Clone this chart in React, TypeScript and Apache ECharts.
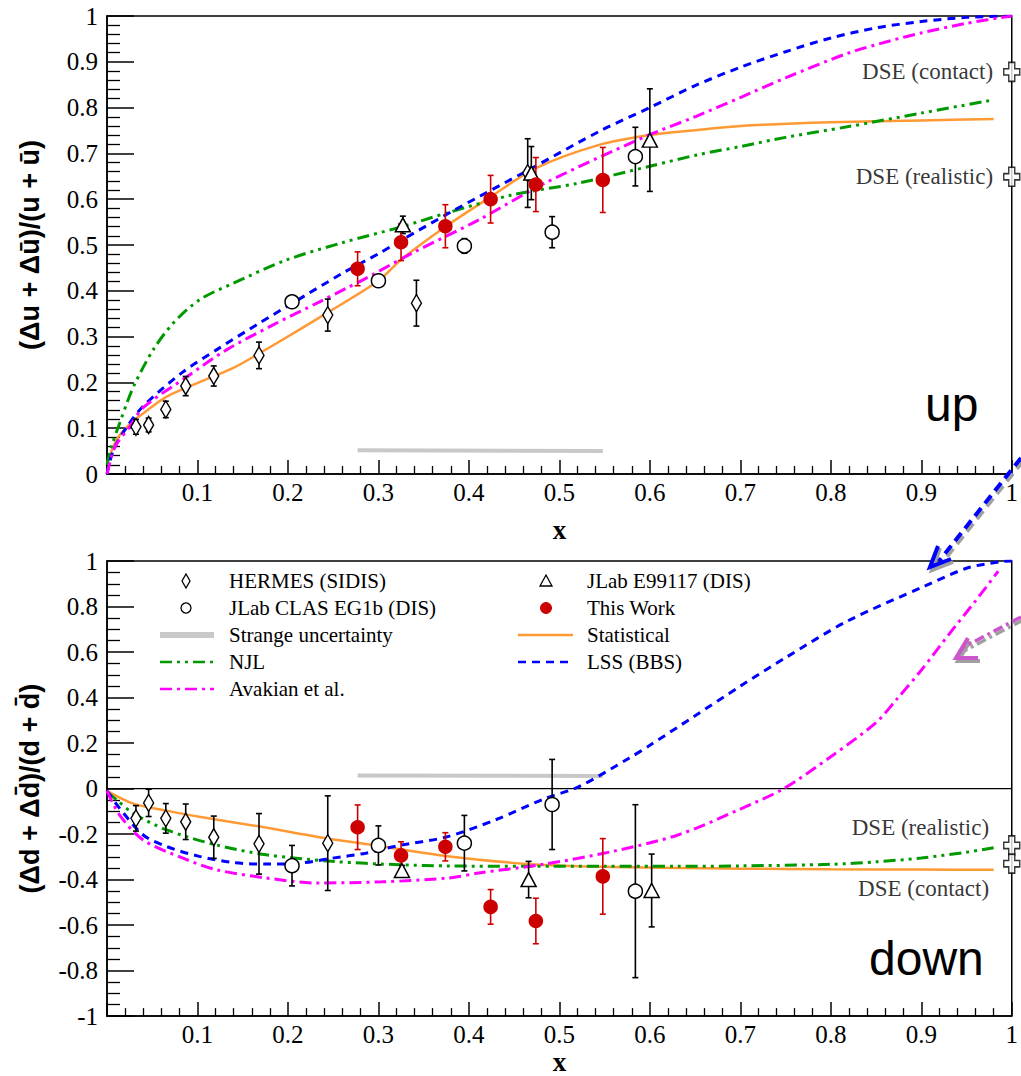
import React, { useEffect, useRef } from 'react';
import * as echarts from 'echarts';

// ---------------- DATA: up quark (top panel) ----------------
const hermesUpX = [0.032, 0.046, 0.065, 0.087, 0.118, 0.168, 0.244, 0.342, 0.465];
const hermesUpY = [0.103, 0.107, 0.141, 0.192, 0.214, 0.259, 0.347, 0.373, 0.657];
const hermesUpErr = [0.016, 0.015, 0.018, 0.021, 0.022, 0.029, 0.035, 0.05, 0.075];

const clasUpX = [0.2045, 0.3, 0.395, 0.492, 0.584];
const clasUpY = [0.376, 0.422, 0.498, 0.528, 0.693];
const clasUpErr = [0.007, 0.008, 0.016, 0.034, 0.064];

const e99117UpX = [0.327, 0.469, 0.6];
const e99117UpY = [0.544, 0.657, 0.729];
const e99117UpErr = [0.019, 0.058, 0.112];

const thisWorkUpX = [0.277, 0.325, 0.374, 0.424, 0.474, 0.548];
const thisWorkUpY = [0.448, 0.506, 0.541, 0.6, 0.632, 0.642];
const thisWorkUpErr = [0.037, 0.04, 0.047, 0.052, 0.059, 0.071];

const strangeUpX = [0.277, 0.548];
const strangeUpY = [0.052, 0.05];

const statUpX = [0, 0.006, 0.0125, 0.027, 0.045, 0.066, 0.099, 0.139, 0.187, 0.246, 0.3, 0.325, 0.374, 0.424, 0.473, 0.543, 0.6, 0.653, 0.7, 0.8, 0.9, 0.98];
const statUpY = [0.023, 0.055, 0.081, 0.112, 0.14, 0.169, 0.198, 0.231, 0.285, 0.355, 0.422, 0.468, 0.54, 0.605, 0.667, 0.718, 0.74, 0.751, 0.76, 0.768, 0.772, 0.775];

const njlUpX = [0, 0.005, 0.014, 0.023, 0.031, 0.051, 0.073, 0.102, 0.139, 0.198, 0.26, 0.326, 0.374, 0.447, 0.521, 0.6, 0.653, 0.7, 0.75, 0.818, 0.9, 0.98];
const njlUpY = [0.02, 0.06, 0.111, 0.16, 0.198, 0.271, 0.329, 0.38, 0.416, 0.467, 0.505, 0.54, 0.569, 0.609, 0.635, 0.672, 0.697, 0.715, 0.735, 0.758, 0.788, 0.817];

const lssUpX = [0, 0.007, 0.022, 0.04, 0.084, 0.121, 0.168, 0.205, 0.26, 0.301, 0.326, 0.381, 0.466, 0.547, 0.6, 0.65, 0.7, 0.75, 0.8, 0.85, 0.9, 0.95, 1.0];
const lssUpY = [0.0, 0.052, 0.103, 0.148, 0.223, 0.271, 0.329, 0.373, 0.438, 0.482, 0.511, 0.573, 0.664, 0.751, 0.8, 0.848, 0.888, 0.922, 0.952, 0.974, 0.988, 0.997, 1.0];

const avaUpX = [0, 0.009, 0.025, 0.04, 0.088, 0.132, 0.183, 0.235, 0.264, 0.286, 0.337, 0.411, 0.484, 0.594, 0.65, 0.7, 0.75, 0.818, 0.866, 0.9, 0.95, 1.0];
const avaUpY = [0, 0.06, 0.103, 0.145, 0.212, 0.271, 0.325, 0.376, 0.405, 0.427, 0.482, 0.555, 0.635, 0.736, 0.78, 0.822, 0.865, 0.918, 0.946, 0.963, 0.984, 1.0];

const dseUpLabels = ['DSE (contact)', 'DSE (realistic)'];
const dseUpY = [0.878, 0.649];

// ---------------- DATA: down quark (bottom panel) ----------------
const hermesDownX = [0.032, 0.046, 0.065, 0.087, 0.118, 0.168, 0.244];
const hermesDownY = [-0.131, -0.063, -0.131, -0.146, -0.214, -0.243, -0.24];
const hermesDownErr = [0.056, 0.06, 0.065, 0.078, 0.093, 0.133, 0.208];

const clasDownX = [0.2045, 0.3, 0.395, 0.492, 0.584];
const clasDownY = [-0.339, -0.25, -0.24, -0.07, -0.451];
const clasDownErr = [0.089, 0.086, 0.122, 0.198, 0.38];

const e99117DownX = [0.326, 0.466, 0.602];
const e99117DownY = [-0.36, -0.4, -0.448];
const e99117DownErr = [0.022, 0.08, 0.16];

const thisWorkDownX = [0.277, 0.325, 0.374, 0.424, 0.474, 0.548];
const thisWorkDownY = [-0.17, -0.294, -0.256, -0.52, -0.582, -0.386];
const thisWorkDownErr = [0.098, 0.06, 0.062, 0.076, 0.1, 0.166];

const strangeDownX = [0.277, 0.548];
const strangeDownY = [0.057, 0.055];

const statDownX = [0, 0.029, 0.066, 0.102, 0.169, 0.242, 0.301, 0.374, 0.466, 0.521, 0.631, 0.7, 0.8, 0.9, 0.98];
const statDownY = [-0.01, -0.066, -0.097, -0.124, -0.167, -0.218, -0.252, -0.296, -0.332, -0.342, -0.349, -0.352, -0.355, -0.356, -0.357];

const njlDownX = [0, 0.011, 0.029, 0.066, 0.121, 0.176, 0.249, 0.323, 0.378, 0.466, 0.55, 0.631, 0.7, 0.8, 0.85, 0.9, 0.95, 0.98];
const njlDownY = [-0.015, -0.051, -0.109, -0.182, -0.248, -0.291, -0.32, -0.335, -0.34, -0.342, -0.342, -0.342, -0.34, -0.333, -0.322, -0.305, -0.28, -0.26];

const lssDownX = [0, 0.014, 0.04, 0.066, 0.102, 0.139, 0.176, 0.213, 0.249, 0.286, 0.323, 0.374, 0.429, 0.484, 0.521, 0.576, 0.6, 0.65, 0.7, 0.75, 0.818, 0.903, 0.95, 0.987, 1.0];
const lssDownY = [-0.01, -0.087, -0.204, -0.255, -0.298, -0.325, -0.332, -0.328, -0.306, -0.284, -0.25, -0.214, -0.138, -0.044, 0.007, 0.131, 0.19, 0.32, 0.45, 0.575, 0.735, 0.888, 0.968, 0.997, 1.0];

const avaDownX = [0, 0.014, 0.04, 0.084, 0.121, 0.176, 0.231, 0.304, 0.378, 0.411, 0.484, 0.558, 0.631, 0.7, 0.748, 0.8, 0.85, 0.873, 0.9, 0.93, 0.96, 0.985];
const avaDownY = [-0.01, -0.117, -0.226, -0.306, -0.357, -0.393, -0.415, -0.41, -0.393, -0.371, -0.332, -0.277, -0.204, -0.09, 0, 0.14, 0.29, 0.393, 0.52, 0.675, 0.825, 0.955];

const dseDownLabels = ['DSE (realistic)', 'DSE (contact)'];
const dseDownY = [-0.25, -0.33];

// ---------------- axis ticks ----------------
const xTickStep = 0.1;
const yUpStep = 0.1;
const yDownStep = 0.2;

// ---------------- legend ----------------
const legendLeft = ['HERMES (SIDIS)', 'JLab CLAS EG1b (DIS)', 'Strange uncertainty', 'NJL', 'Avakian et al.'];
const legendRight = ['JLab E99117 (DIS)', 'This Work', 'Statistical', 'LSS (BBS)'];

// ---------------- styles ----------------
const SERIF = "'Liberation Serif', 'Times New Roman', 'DejaVu Serif', serif";
const SANS = "'Liberation Sans', Arial, Helvetica, sans-serif";
const C_STAT = '#ff9933';
const C_NJL = '#009900';
const C_LSS = '#0000ff';
const C_AVA = '#ff00ff';
const C_RED = '#cc0000';
const C_GREY = '#c8c8c8';
const DASH_NJL = [12, 5, 3, 5, 3, 5];
const DASH_LSS = [8, 6];
const DASH_AVA = [12, 5, 3, 5];
const CROSS = 'path://M5,0H11V6H16V12H11V18H5V12H0V6H5Z';

const zip = (xs: number[], ys: number[]) => xs.map((x, i) => [x, ys[i]]);
const errData = (xs: number[], ys: number[], es: number[]) => xs.map((x, i) => [x, ys[i] - es[i], ys[i] + es[i]]);
const fmt = (v: number) => String(Number(v.toFixed(2)));

const errRender = (color: string) => (params: any, api: any) => {
  const x = api.value(0);
  const lo = api.value(1);
  const hi = api.value(2);
  const a = api.coord([x, hi]);
  const b = api.coord([x, lo]);
  const w = 3;
  const st = { stroke: color, lineWidth: 1.6 };
  return {
    type: 'group',
    children: [
      { type: 'line', shape: { x1: a[0], y1: a[1], x2: b[0], y2: b[1] }, style: st },
      { type: 'line', shape: { x1: a[0] - w, y1: a[1], x2: a[0] + w, y2: a[1] }, style: st },
      { type: 'line', shape: { x1: b[0] - w, y1: b[1], x2: b[0] + w, y2: b[1] }, style: st },
    ],
  };
};

function panelSeries(gi: number, d: any) {
  const ax = { xAxisIndex: gi, yAxisIndex: gi };
  const line = (data: number[][], color: string, type: any, width: number, z = 3) => ({
    type: 'line', ...ax, data, symbol: 'none', smooth: 0.3, z,
    lineStyle: { color, type, width, cap: 'butt' },
  });
  const err = (data: number[][], color: string) => ({
    type: 'custom', ...ax, data, renderItem: errRender(color), encode: { x: 0, y: [1, 2] }, z: 4,
  });
  const markers = (data: number[][], symbol: string, size: any, fill: string, stroke: string) => ({
    type: 'scatter', ...ax, data, symbol, symbolSize: size, z: 5,
    itemStyle: { color: fill, borderColor: stroke, borderWidth: 1.5, opacity: 1 },
  });
  const s: any[] = [];
  if (gi === 1) {
    s.push({ type: 'line', ...ax, data: [[0, 0], [1, 0]], symbol: 'none', lineStyle: { color: '#000', width: 1.3 }, z: 2 });
  }
  s.push(line(d.strange, C_GREY, 'solid', 4, 2));
  s.push(line(d.stat, C_STAT, 'solid', 2.5));
  s.push(line(d.njl, C_NJL, DASH_NJL, 3));
  s.push(line(d.lss, C_LSS, DASH_LSS, 3));
  s.push(line(d.ava, C_AVA, DASH_AVA, 3));
  s.push(err(d.hermesErr, '#000'));
  s.push(err(d.clasErr, '#000'));
  s.push(err(d.e99Err, '#000'));
  s.push(err(d.twErr, C_RED));
  s.push(markers(d.hermes, 'diamond', [10, 17], '#fff', '#000'));
  s.push(markers(d.clas, 'circle', 14, '#fff', '#000'));
  s.push(markers(d.e99, 'triangle', [15, 14], '#fff', '#000'));
  s.push(markers(d.tw, 'circle', 13, C_RED, C_RED));
  s.push({
    type: 'scatter', ...ax, clip: false, symbol: CROSS, symbolSize: [16, 19], z: 6,
    itemStyle: { color: '#fff', borderColor: '#000', borderWidth: 1.5 },
    data: d.dse,
  });
  return s;
}

function buildOption() {
  const up = {
    strange: zip(strangeUpX, strangeUpY),
    stat: zip(statUpX, statUpY),
    njl: zip(njlUpX, njlUpY),
    lss: zip(lssUpX, lssUpY),
    ava: zip(avaUpX, avaUpY),
    hermes: zip(hermesUpX, hermesUpY),
    hermesErr: errData(hermesUpX, hermesUpY, hermesUpErr),
    clas: zip(clasUpX, clasUpY),
    clasErr: errData(clasUpX, clasUpY, clasUpErr),
    e99: zip(e99117UpX, e99117UpY),
    e99Err: errData(e99117UpX, e99117UpY, e99117UpErr),
    tw: zip(thisWorkUpX, thisWorkUpY),
    twErr: errData(thisWorkUpX, thisWorkUpY, thisWorkUpErr),
    dse: dseUpY.map((y, i) => ({
      value: [1, y],
      label: { show: true, formatter: dseUpLabels[i], position: 'left', distance: 10, fontFamily: SERIF, fontSize: 23, color: '#000' },
    })),
  };
  const down = {
    strange: zip(strangeDownX, strangeDownY),
    stat: zip(statDownX, statDownY),
    njl: zip(njlDownX, njlDownY),
    lss: zip(lssDownX, lssDownY),
    ava: zip(avaDownX, avaDownY),
    hermes: zip(hermesDownX, hermesDownY),
    hermesErr: errData(hermesDownX, hermesDownY, hermesDownErr),
    clas: zip(clasDownX, clasDownY),
    clasErr: errData(clasDownX, clasDownY, clasDownErr),
    e99: zip(e99117DownX, e99117DownY),
    e99Err: errData(e99117DownX, e99117DownY, e99117DownErr),
    tw: zip(thisWorkDownX, thisWorkDownY),
    twErr: errData(thisWorkDownX, thisWorkDownY, thisWorkDownErr),
    dse: dseDownY.map((y, i) => ({
      value: [1, y],
      label: { show: true, formatter: dseDownLabels[i], position: 'left', distance: 14, offset: [0, i === 0 ? -18 : 25], fontFamily: SERIF, fontSize: 23, color: '#000' },
    })),
  };

  const xAxis = (gi: number, gap: number) => ({
    gridIndex: gi, type: 'value', min: 0, max: 1, interval: xTickStep,
    name: 'x', nameLocation: 'middle', nameGap: gap,
    nameTextStyle: { fontFamily: SERIF, fontWeight: 'bold', fontSize: 27, color: '#000' },
    axisLine: { show: true, onZero: false, lineStyle: { color: '#000', width: 1.5 } },
    axisTick: { show: true, inside: true, length: 14, lineStyle: { color: '#000', width: 1.5 } },
    minorTick: { show: true, splitNumber: 5, length: 8, lineStyle: { color: '#000', width: 1.3 } },
    splitLine: { show: false },
    minorSplitLine: { show: false },
    axisLabel: { fontFamily: SERIF, fontSize: 25, color: '#000', margin: 6, formatter: (v: number) => (v === 0 ? '' : fmt(v)) },
  });
  const yAxis = (gi: number, min: number, step: number, minorSplit: number, name: string) => ({
    gridIndex: gi, type: 'value', min, max: 1, interval: step,
    name, nameLocation: 'middle', nameGap: 64, nameRotate: 90,
    nameTextStyle: { fontFamily: SANS, fontWeight: 'bold', fontSize: 27, color: '#000' },
    axisLine: { show: true, onZero: false, lineStyle: { color: '#000', width: 1.5 } },
    axisTick: { show: true, inside: true, length: 27, lineStyle: { color: '#000', width: 1.5 } },
    minorTick: { show: true, splitNumber: minorSplit, length: 13, lineStyle: { color: '#000', width: 1.3 } },
    splitLine: { show: false },
    minorSplitLine: { show: false },
    axisLabel: { fontFamily: SERIF, fontSize: 25, color: '#000', margin: 9, formatter: (v: number) => fmt(v) },
  });

  // legend graphics
  const lgRow0 = 581;
  const lgRowStep = 27;
  const lgFont = { fontFamily: SERIF, fontSize: 21, fill: '#000' };
  const g: any[] = [];
  const txt = (x: number, y: number, text: string) => ({
    type: 'text', x, y, z: 100, style: { text, ...lgFont, verticalAlign: 'middle', align: 'left' },
  });
  const lLine = (x1: number, x2: number, y: number, stroke: string, w: number, dash: any) => ({
    type: 'line', z: 100, shape: { x1, y1: y, x2, y2: y }, style: { stroke, lineWidth: w, lineDash: dash },
  });
  const lxM = 186, lxT = 229, lx1 = 160, lx2 = 214;
  const rxM = 546, rxT = 587, rx1 = 518, rx2 = 573;
  legendLeft.forEach((name, i) => {
    const y = lgRow0 + i * lgRowStep;
    g.push(txt(lxT, y, name));
    if (i === 0) g.push({ type: 'polygon', z: 100, shape: { points: [[lxM, y - 7], [lxM + 4, y], [lxM, y + 7], [lxM - 4, y]] }, style: { fill: '#fff', stroke: '#000', lineWidth: 1.3 } });
    if (i === 1) g.push({ type: 'circle', z: 100, shape: { cx: lxM, cy: y, r: 5 }, style: { fill: '#fff', stroke: '#000', lineWidth: 1.3 } });
    if (i === 2) g.push(lLine(lx1, lx2, y, C_GREY, 6, null));
    if (i === 3) g.push(lLine(lx1, lx2, y, C_NJL, 2.5, DASH_NJL));
    if (i === 4) g.push(lLine(lx1, lx2, y, C_AVA, 2.5, DASH_AVA));
  });
  legendRight.forEach((name, i) => {
    const y = lgRow0 + i * lgRowStep;
    g.push(txt(rxT, y, name));
    if (i === 0) g.push({ type: 'polygon', z: 100, shape: { points: [[rxM, y - 6], [rxM + 6, y + 5], [rxM - 6, y + 5]] }, style: { fill: '#fff', stroke: '#000', lineWidth: 1.3 } });
    if (i === 1) g.push({ type: 'circle', z: 100, shape: { cx: rxM, cy: y, r: 5.5 }, style: { fill: C_RED, stroke: C_RED, lineWidth: 1 } });
    if (i === 2) g.push(lLine(rx1, rx2, y, C_STAT, 2.5, null));
    if (i === 3) g.push(lLine(rx1, rx2, y, C_LSS, 2.5, DASH_LSS));
  });

  // big panel tags
  g.push({ type: 'text', x: 925, y: 404, z: 100, style: { text: 'up', fontFamily: SANS, fontSize: 48, fill: '#000', verticalAlign: 'middle' } });
  g.push({ type: 'text', x: 869, y: 958, z: 100, style: { text: 'down', fontFamily: SANS, fontSize: 48, fill: '#000', verticalAlign: 'middle' } });

  // arrows (annotation)
  const shadow = '#a0a0a0';
  g.push({ type: 'line', z: 90, shape: { x1: 1023, y1: 461, x2: 941, y2: 564 }, style: { stroke: shadow, lineWidth: 4, lineDash: [10, 6] } });
  g.push({ type: 'line', z: 91, shape: { x1: 1021, y1: 458, x2: 939, y2: 561 }, style: { stroke: C_LSS, lineWidth: 4, lineDash: [10, 6] } });
  g.push({ type: 'polyline', z: 90, shape: { points: [[940, 548], [932, 570], [953, 562]] }, style: { stroke: shadow, lineWidth: 4, fill: null } });
  g.push({ type: 'polyline', z: 91, shape: { points: [[938, 546], [930, 567], [951, 559]] }, style: { stroke: C_LSS, lineWidth: 4, fill: null } });
  g.push({ type: 'line', z: 90, shape: { x1: 1023, y1: 620, x2: 964, y2: 651 }, style: { stroke: shadow, lineWidth: 3.5, lineDash: [10, 4, 3, 4] } });
  g.push({ type: 'line', z: 91, shape: { x1: 1021, y1: 617, x2: 962, y2: 648 }, style: { stroke: '#cc55cc', lineWidth: 3.5, lineDash: [10, 4, 3, 4] } });
  g.push({ type: 'polyline', z: 90, shape: { points: [[970, 641], [958, 661], [980, 661]] }, style: { stroke: shadow, lineWidth: 4, fill: null } });
  g.push({ type: 'polyline', z: 91, shape: { points: [[968, 638], [956, 658], [978, 658]] }, style: { stroke: '#cc55cc', lineWidth: 4, fill: null } });

  return {
    animation: false,
    backgroundColor: '#fff',
    grid: [
      { left: 107, top: 16, width: 908, height: 458, show: true, borderColor: '#000', borderWidth: 1.5 },
      { left: 107, top: 561, width: 908, height: 458, show: true, borderColor: '#000', borderWidth: 1.5 },
    ],
    xAxis: [xAxis(0, 42), xAxis(1, 30)],
    yAxis: [
      yAxis(0, 0, yUpStep, 5, '(Δu + Δū)/(u + ū)'),
      yAxis(1, -1, yDownStep, 4, '(Δd + Δd̄)/(d + d̄)'),
    ],
    series: [...panelSeries(0, up), ...panelSeries(1, down)],
    graphic: g,
  };
}

export default function App() {
  const ref = useRef<HTMLDivElement>(null);
  useEffect(() => {
    const chart = echarts.init(ref.current as HTMLDivElement, null, { renderer: 'svg' });
    chart.setOption(buildOption() as any);
    return () => chart.dispose();
  }, []);
  return <div ref={ref} style={{ position: 'absolute', left: 0, top: 0, width: 1021, height: 1076, background: '#fff' }} />;
}
